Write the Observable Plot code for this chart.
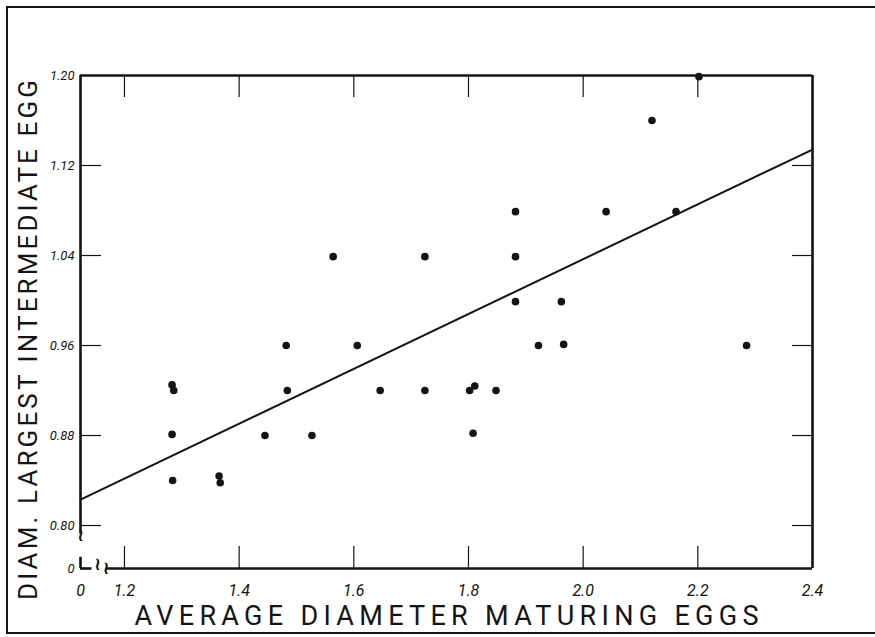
<!DOCTYPE html>
<html>
<head>
<meta charset="utf-8">
<script src="https://cdn.jsdelivr.net/npm/d3@7"></script>
<script src="https://cdn.jsdelivr.net/npm/@observablehq/plot@0.6"></script>
<style>
  html, body { margin: 0; padding: 0; background: #fff; }
  #wrap { position: relative; width: 875px; height: 637px; overflow: hidden; }
  #border { position: absolute; left: 6px; top: 6px; width: 900px; height: 628px;
            border: 2.5px solid #151515; box-sizing: border-box; }
  #chart { position: absolute; left: 0; top: 0; }
</style>
</head>
<body>
<div id="wrap"><div id="border"></div><div id="chart"></div></div>
<script>
// ---- data ----
const avgDiameter = [1.283, 1.286, 1.283, 1.284, 1.365, 1.367, 1.445, 1.482, 1.484, 1.527,
                     1.564, 1.606, 1.646, 1.724, 1.724, 1.802, 1.811, 1.808, 1.848, 1.882,
                     1.882, 1.882, 1.922, 1.962, 1.966, 2.040, 2.120, 2.162, 2.202, 2.285];
const largestEgg  = [0.925, 0.920, 0.881, 0.840, 0.844, 0.838, 0.880, 0.960, 0.920, 0.880,
                     1.039, 0.960, 0.920, 1.039, 0.920, 0.920, 0.924, 0.882, 0.920, 1.079,
                     1.039, 0.999, 0.960, 0.999, 0.961, 1.079, 1.160, 1.079, 1.199, 0.960];
const fitX = [1.1233, 2.4];
const fitY = [0.8231, 1.1342];
const xTicks = [1.2, 1.4, 1.6, 1.8, 2.0, 2.2, 2.4];
const yTicks = [0.80, 0.88, 0.96, 1.04, 1.12, 1.20];
const xMin = 1.1233, xMax = 2.4, yMin = 0.7618, yMax = 1.20;
const xTitle = "AVERAGE DIAMETER MATURING EGGS";
const yTitle = "DIAM. LARGEST INTERMEDIATE EGG";
// axis-break squiggles (data units)
const breakX = [xMin, 1.168, xMin + 0.03];
const breakY = [0.7915, yMin, yMin + 0.004];

const points = avgDiameter.map((x, i) => ({x, y: largestEgg[i]}));
const fit = fitX.map((x, i) => ({x, y: fitY[i]}));
const breaks = breakX.map((x, i) => ({x, y: breakY[i]}));
const ink = "#141414";

const chart = Plot.plot({
  width: 875, height: 637,
  marginTop: 75, marginRight: 63, marginBottom: 69, marginLeft: 80,
  style: {fontFamily: "Roboto, 'DejaVu Sans', sans-serif", color: ink, background: "transparent"},
  x: {domain: [xMin, xMax]},
  y: {domain: [yMin, yMax]},
  marks: [
    // frame pieces (broken axes)
    Plot.ruleY([yMax], {x1: xMin, x2: xMax, stroke: ink, strokeWidth: 2.6}),
    Plot.ruleX([xMax], {y1: yMin, y2: yMax, stroke: ink, strokeWidth: 2.6}),
    Plot.ruleX([xMin], {y1: 0.7925, y2: yMax, stroke: ink, strokeWidth: 2.6}),
    Plot.ruleX([xMin], {y1: yMin, y2: yMin + 0.01, stroke: ink, strokeWidth: 2.6}),
    Plot.ruleY([yMin], {x1: 1.168, x2: xMax, stroke: ink, strokeWidth: 2.6}),
    Plot.ruleY([yMin], {x1: xMin, x2: xMin + 0.02, stroke: ink, strokeWidth: 2.6}),
    Plot.text(breaks, {x: "x", y: "y", text: () => "≀", fontSize: 18, fontWeight: 700, fill: ink}),
    // inner tick marks
    Plot.tickX(xTicks.slice(0, -1), {x: d => d, insetTop: 471, stroke: ink, strokeWidth: 1.2}),
    Plot.tickX(xTicks.slice(0, -1), {x: d => d, insetBottom: 471, stroke: ink, strokeWidth: 1.2}),
    Plot.tickY(yTicks.slice(0, -1), {y: d => d, insetRight: 711, stroke: ink, strokeWidth: 1.2}),
    Plot.tickY(yTicks.slice(0, -1), {y: d => d, insetLeft: 712, stroke: ink, strokeWidth: 1.2}),
    // axes labels
    Plot.axisX({ticks: [xMin, ...xTicks], tickSize: 0, tickPadding: 16,
      tickFormat: d => d === xMin ? "0" : d.toFixed(1), fontSize: 16, fontStyle: "italic", label: null}),
    Plot.axisY({ticks: [yMin, ...yTicks], tickSize: 0, tickPadding: 6,
      tickFormat: d => d === yMin ? "0" : d.toFixed(2), fontSize: 13, fontStyle: "italic", label: null}),
    // regression line
    Plot.line(fit, {x: "x", y: "y", stroke: ink, strokeWidth: 2}),
    // observations
    Plot.dot(points, {x: "x", y: "y", r: 3.8, fill: ink, stroke: "none"}),
    // titles
    Plot.text([xTitle], {frameAnchor: "bottom", dy: 48, fontSize: 27, fontWeight: 400,
      textAnchor: "middle", lineAnchor: "middle", fill: ink}),
    Plot.text([yTitle], {frameAnchor: "left", dx: -52, dy: 18, rotate: -90, fontSize: 26,
      fontWeight: 400, textAnchor: "middle", lineAnchor: "middle", fill: ink})
  ]
});
// spread the hand-lettered titles to the reference's lengths
d3.select(chart).selectAll("text")
  .filter(function () { return this.textContent === xTitle; })
  .attr("textLength", 624).attr("lengthAdjust", "spacing");
d3.select(chart).selectAll("text")
  .filter(function () { return this.textContent === yTitle; })
  .attr("textLength", 520).attr("lengthAdjust", "spacing");
document.getElementById("chart").appendChild(chart);
</script>
</body>
</html>
